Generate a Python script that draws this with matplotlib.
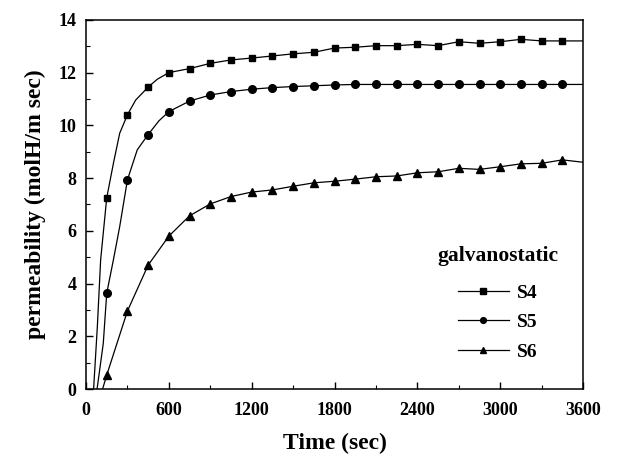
import numpy as np
import matplotlib.pyplot as plt
from matplotlib.ticker import MultipleLocator

# tiempos con marcador (cada 150 s) y final de la curva
t_marks = list(range(150, 3451, 150))
t_end = 3600

s4 = [7.25, 10.4, 11.45, 12.0, 12.15, 12.35, 12.48, 12.55, 12.63, 12.71, 12.77, 12.93,
      12.96, 13.02, 13.02, 13.07, 13.02, 13.17, 13.11, 13.17, 13.26, 13.2, 13.2]
s4_end = 13.2
s5 = [3.63, 7.93, 9.65, 10.52, 10.92, 11.15, 11.28, 11.37, 11.43, 11.47, 11.5, 11.53,
      11.55, 11.55, 11.55, 11.55, 11.55, 11.55, 11.55, 11.55, 11.55, 11.55, 11.55]
s5_end = 11.55
s6 = [0.53, 2.96, 4.7, 5.8, 6.57, 7.02, 7.3, 7.47, 7.55, 7.69, 7.82, 7.88,
      7.96, 8.05, 8.08, 8.2, 8.24, 8.37, 8.33, 8.43, 8.54, 8.56, 8.69]
s6_end = 8.6

s4_rise_t = [55, 82, 106, 200, 244, 360, 517]
s4_rise_v = [0.0, 2.36, 4.9, 8.6, 9.7, 10.96, 11.75]
s5_rise_t = [80, 125, 198, 244, 331, 371, 528]
s5_rise_v = [0.0, 1.73, 4.89, 6.16, 8.43, 9.07, 10.17]
s6_rise_t = [120]
s6_rise_v = [0.0]

series = [
    ("S4", s4, s4_end, s4_rise_t, s4_rise_v, "s", 5.0),
    ("S5", s5, s5_end, s5_rise_t, s5_rise_v, "o", 5.5),
    ("S6", s6, s6_end, s6_rise_t, s6_rise_v, "^", 6.0),
]

serif = ["Liberation Serif", "DejaVu Serif"]

fig = plt.figure(figsize=(6.21, 4.61), dpi=100)
ax = fig.add_axes([0.1385, 0.156, 0.8005, 0.801])

for name, vals, v_end, rt, rv, mk, ms in series:
    t = np.array(rt + t_marks + [t_end], dtype=float)
    y = np.array(rv + vals + [v_end], dtype=float)
    order = np.argsort(t)
    t, y = t[order], y[order]
    marked = [i for i, tt in enumerate(t) if int(tt) in t_marks]
    ax.plot(t, y, color="black", lw=0.9, marker=mk, ms=ms,
            markevery=marked, label=name)

ax.set_xlim(0, 3600)
ax.set_ylim(0, 14)
ax.xaxis.set_major_locator(MultipleLocator(600))
ax.xaxis.set_minor_locator(MultipleLocator(300))
ax.yaxis.set_major_locator(MultipleLocator(2))
ax.yaxis.set_minor_locator(MultipleLocator(1))
ax.tick_params(which="both", direction="in", top=False, right=False)
ax.tick_params(which="major", length=5, width=1)
ax.tick_params(which="minor", length=3, width=0.8)
ax.tick_params(axis="x", which="major", pad=9)
ax.tick_params(axis="y", which="major", pad=7)
for sp in ax.spines.values():
    sp.set_linewidth(1.1)

for lab in ax.get_xticklabels() + ax.get_yticklabels():
    lab.set_family(serif)
    lab.set_fontweight("bold")
    lab.set_fontsize(13)

ax.set_xlabel("Time (sec)", family=serif, fontweight="bold", fontsize=17, labelpad=10)
ax.set_ylabel("permeability (molH/m sec)", family=serif, fontweight="bold",
              fontsize=17, labelpad=9)

leg = ax.legend(loc="lower right", bbox_to_anchor=(0.985, 0.03), frameon=False,
                title="galvanostatic", markerscale=0.75, handlelength=2.6,
                handletextpad=0.4, labelspacing=0.6,
                prop={"family": serif, "weight": "bold", "size": 14})
leg.get_title().set_fontfamily(serif)
leg.get_title().set_fontweight("bold")
leg.get_title().set_fontsize(15.5)
leg._legend_box.sep = 13  # mas aire entre titulo y entradas

fig.savefig("out.png", dpi=100)
